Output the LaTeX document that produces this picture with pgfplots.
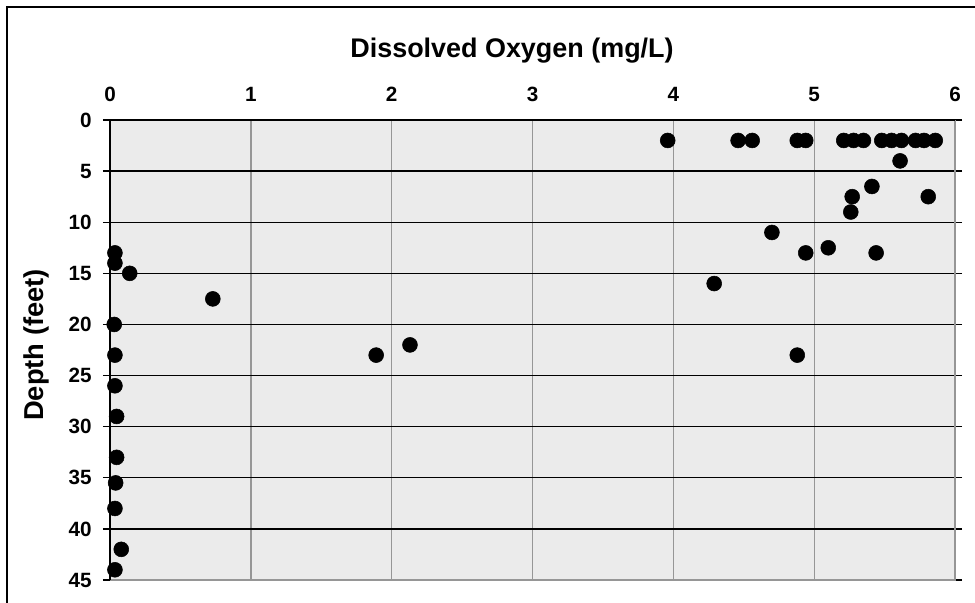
\documentclass[border=0pt]{standalone}
\usepackage{fontspec}
\setmainfont{Liberation Sans}
\usepackage{pgfplots}
\pgfplotsset{compat=1.18}
\definecolor{plotbg}{RGB}{235,235,235}
\definecolor{vgrid}{RGB}{150,150,150}
\definecolor{frame}{RGB}{150,150,150}
\begin{document}
\begin{tikzpicture}
\useasboundingbox (0,-452.25pt) rectangle (731.25pt,0);
\draw[line width=1.5pt] (5.25pt,-470pt) -- (5.25pt,-5.25pt) -- (745pt,-5.25pt);
\node[anchor=base, font=\fontsize{20.2}{20}\selectfont\bfseries] at (384pt,-42.75pt) {Dissolved Oxygen (mg/L)};
\node[anchor=base, rotate=90, font=\fontsize{20.5}{20}\selectfont\bfseries] at (32.25pt,-258.75pt) {Depth (feet)};
\begin{axis}[
  at={(82.5pt,-90pt)}, anchor=north west,
  scale only axis, width=633.75pt, height=345pt,
  xmin=0, xmax=6, ymin=0, ymax=45,
  y dir=reverse,
  xtick={0,1,2,3,4,5,6},
  ytick={0,5,10,15,20,25,30,35,40,45},
  xticklabel pos=right,
  axis background/.style={fill=plotbg},
  axis line style={draw=none},
  grid=major,
  x grid style={vgrid, line width=1pt},
  y grid style={black, line width=1pt},
  xtick style={draw=none},
  ytick style={black, line width=1pt},
  ytick align=outside,
  major tick length=5.25pt,
  /pgf/number format/assume math mode=true,
  ticklabel style={font=\fontsize{15.5}{15}\selectfont\bfseries},
  xticklabel style={anchor=base, yshift=13.7pt},
  yticklabel style={xshift=-5pt},
  clip=false,
]
\addplot[only marks, mark=*, mark size=5.6pt, black] coordinates {
(3.96,2)(4.46,2)(4.56,2)(4.88,2)(4.94,2)(5.21,2)(5.28,2)(5.35,2)(5.48,2)(5.55,2)(5.62,2)(5.72,2)(5.78,2)(5.86,2)
(5.61,4)(5.41,6.5)(5.27,7.5)(5.81,7.5)(5.26,9)(4.70,11)(4.94,13)(5.10,12.5)(5.44,13)(4.29,16)
(0.035,13)(0.035,14)(0.14,15)(0.73,17.5)(0.03,20)(0.035,23)(0.035,26)(0.047,29)(0.047,33)(0.04,35.5)(0.035,38)(0.08,42)(0.035,44)
(1.89,23)(2.13,22)(4.88,23)
};
\draw[frame, line width=1.5pt] (axis cs:6,0) -- (axis cs:6,45) -- (axis cs:0,45);
\draw[black, line width=1.2pt] (axis cs:0,45) -- (axis cs:0,0) -- (axis cs:6,0);
\end{axis}
\end{tikzpicture}
\end{document}
